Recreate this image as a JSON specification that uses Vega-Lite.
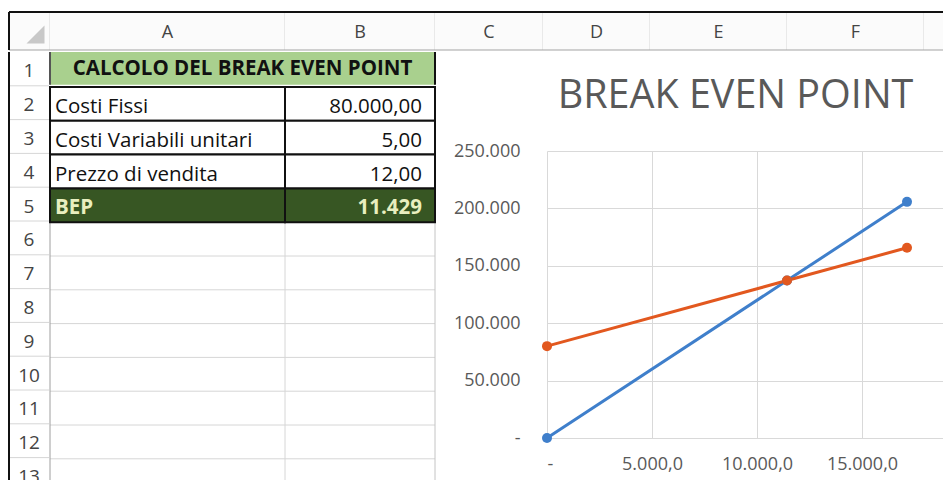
{
  "$schema": "https://vega.github.io/schema/vega-lite/v6.json",
  "background": "white",
  "padding": {"left": 8, "top": 11, "right": 0, "bottom": 0},
  "config": {
    "view": {"stroke": null},
    "font": "Open Sans",
    "concat": {"spacing": 0},
    "locale": {"number": {"decimal": ",", "thousands": ".", "grouping": [3], "currency": ["", " €"]}}
  },
  "datasets": {
    "righe": [
      {"riga": 1}, {"riga": 2}, {"riga": 3}, {"riga": 4}, {"riga": 5}, {"riga": 6}, {"riga": 7},
      {"riga": 8}, {"riga": 9}, {"riga": 10}, {"riga": 11}, {"riga": 12}, {"riga": 13}
    ],
    "foglio": [
      {"riga": 2, "voce": "Costi Fissi", "valore": 80000},
      {"riga": 3, "voce": "Costi Variabili unitari", "valore": 5},
      {"riga": 4, "voce": "Prezzo di vendita", "valore": 12},
      {"riga": 5, "voce": "BEP", "valore": 11428.57},
      {"riga": 6}, {"riga": 7}, {"riga": 8}, {"riga": 9}, {"riga": 10}, {"riga": 11}, {"riga": 12}, {"riga": 13}
    ],
    "grafico": [
      {"serie": "Ricavi totali", "quantita": 0, "importo": 0},
      {"serie": "Ricavi totali", "quantita": 11428.57, "importo": 137142.86},
      {"serie": "Ricavi totali", "quantita": 17142.86, "importo": 205714.29},
      {"serie": "Costi totali", "quantita": 0, "importo": 80000},
      {"serie": "Costi totali", "quantita": 11428.57, "importo": 137142.86},
      {"serie": "Costi totali", "quantita": 17142.86, "importo": 165714.29}
    ]
  },
  "spacing": 0,
  "bounds": "full",
  "vconcat": [
    {
      "spacing": 0,
      "bounds": "flush",
      "hconcat": [
        {
          "width": 41, "height": 38,
          "view": {"fill": "#fbfbfb", "stroke": null},
          "data": {"values": [{"cella": "angolo"}]},
          "layer": [
            {"mark": {"type": "rule", "color": "#d6d6d6"}, "encoding": {"x": {"datum": 1, "type": "quantitative", "scale": {"domain": [0, 1]}, "axis": null}}},
            {"mark": {"type": "rule", "color": "#a3a3a3"}, "encoding": {"y": {"datum": 0, "type": "quantitative", "scale": {"domain": [0, 1]}, "axis": null}}},
            {"mark": {"type": "rule", "color": "#111111", "strokeWidth": 2}, "encoding": {"y": {"datum": 1, "type": "quantitative", "scale": {"domain": [0, 1]}, "axis": null}}},
            {"mark": {"type": "rule", "color": "#111111", "strokeWidth": 2}, "encoding": {"x": {"datum": 0, "type": "quantitative", "scale": {"domain": [0, 1]}, "axis": null}}},
            {"mark": {"type": "point", "shape": "M1.67,-0.61L1.67,1.39L-0.33,1.39Z", "filled": true, "color": "#c8c8c8", "opacity": 1, "size": 324}, "encoding": {}}
          ]
        },
        {
          "width": 235, "height": 38,
          "view": {"fill": "#fbfbfb", "stroke": null},
          "data": {"values": [{"colonna": "A"}]},
          "layer": [
            {"mark": {"type": "rule", "color": "#d6d6d6"}, "encoding": {"x": {"datum": 1, "type": "quantitative", "scale": {"domain": [0, 1]}, "axis": null}}},
            {"mark": {"type": "rule", "color": "#a3a3a3"}, "encoding": {"y": {"datum": 0, "type": "quantitative", "scale": {"domain": [0, 1]}, "axis": null}}},
            {"mark": {"type": "rule", "color": "#111111", "strokeWidth": 2}, "encoding": {"y": {"datum": 1, "type": "quantitative", "scale": {"domain": [0, 1]}, "axis": null}}},
            {"mark": {"type": "text", "fontSize": 18, "color": "#444444", "dy": 1.5}, "encoding": {"text": {"field": "colonna"}}}
          ]
        },
        {
          "width": 150, "height": 38,
          "view": {"fill": "#fbfbfb", "stroke": null},
          "data": {"values": [{"colonna": "B"}]},
          "layer": [
            {"mark": {"type": "rule", "color": "#d6d6d6"}, "encoding": {"x": {"datum": 1, "type": "quantitative", "scale": {"domain": [0, 1]}, "axis": null}}},
            {"mark": {"type": "rule", "color": "#a3a3a3"}, "encoding": {"y": {"datum": 0, "type": "quantitative", "scale": {"domain": [0, 1]}, "axis": null}}},
            {"mark": {"type": "rule", "color": "#111111", "strokeWidth": 2}, "encoding": {"y": {"datum": 1, "type": "quantitative", "scale": {"domain": [0, 1]}, "axis": null}}},
            {"mark": {"type": "text", "fontSize": 18, "color": "#444444", "dy": 1.5}, "encoding": {"text": {"field": "colonna"}}}
          ]
        },
        {
          "width": 108, "height": 38,
          "view": {"fill": "#fbfbfb", "stroke": null},
          "data": {"values": [{"colonna": "C"}]},
          "layer": [
            {"mark": {"type": "rule", "color": "#d6d6d6"}, "encoding": {"x": {"datum": 1, "type": "quantitative", "scale": {"domain": [0, 1]}, "axis": null}}},
            {"mark": {"type": "rule", "color": "#a3a3a3"}, "encoding": {"y": {"datum": 0, "type": "quantitative", "scale": {"domain": [0, 1]}, "axis": null}}},
            {"mark": {"type": "rule", "color": "#111111", "strokeWidth": 2}, "encoding": {"y": {"datum": 1, "type": "quantitative", "scale": {"domain": [0, 1]}, "axis": null}}},
            {"mark": {"type": "text", "fontSize": 18, "color": "#444444", "dy": 1.5}, "encoding": {"text": {"field": "colonna"}}}
          ]
        },
        {
          "width": 107, "height": 38,
          "view": {"fill": "#fbfbfb", "stroke": null},
          "data": {"values": [{"colonna": "D"}]},
          "layer": [
            {"mark": {"type": "rule", "color": "#d6d6d6"}, "encoding": {"x": {"datum": 1, "type": "quantitative", "scale": {"domain": [0, 1]}, "axis": null}}},
            {"mark": {"type": "rule", "color": "#a3a3a3"}, "encoding": {"y": {"datum": 0, "type": "quantitative", "scale": {"domain": [0, 1]}, "axis": null}}},
            {"mark": {"type": "rule", "color": "#111111", "strokeWidth": 2}, "encoding": {"y": {"datum": 1, "type": "quantitative", "scale": {"domain": [0, 1]}, "axis": null}}},
            {"mark": {"type": "text", "fontSize": 18, "color": "#444444", "dy": 1.5}, "encoding": {"text": {"field": "colonna"}}}
          ]
        },
        {
          "width": 137, "height": 38,
          "view": {"fill": "#fbfbfb", "stroke": null},
          "data": {"values": [{"colonna": "E"}]},
          "layer": [
            {"mark": {"type": "rule", "color": "#d6d6d6"}, "encoding": {"x": {"datum": 1, "type": "quantitative", "scale": {"domain": [0, 1]}, "axis": null}}},
            {"mark": {"type": "rule", "color": "#a3a3a3"}, "encoding": {"y": {"datum": 0, "type": "quantitative", "scale": {"domain": [0, 1]}, "axis": null}}},
            {"mark": {"type": "rule", "color": "#111111", "strokeWidth": 2}, "encoding": {"y": {"datum": 1, "type": "quantitative", "scale": {"domain": [0, 1]}, "axis": null}}},
            {"mark": {"type": "text", "fontSize": 18, "color": "#444444", "dy": 1.5}, "encoding": {"text": {"field": "colonna"}}}
          ]
        },
        {
          "width": 137, "height": 38,
          "view": {"fill": "#fbfbfb", "stroke": null},
          "data": {"values": [{"colonna": "F"}]},
          "layer": [
            {"mark": {"type": "rule", "color": "#d6d6d6"}, "encoding": {"x": {"datum": 1, "type": "quantitative", "scale": {"domain": [0, 1]}, "axis": null}}},
            {"mark": {"type": "rule", "color": "#a3a3a3"}, "encoding": {"y": {"datum": 0, "type": "quantitative", "scale": {"domain": [0, 1]}, "axis": null}}},
            {"mark": {"type": "rule", "color": "#111111", "strokeWidth": 2}, "encoding": {"y": {"datum": 1, "type": "quantitative", "scale": {"domain": [0, 1]}, "axis": null}}},
            {"mark": {"type": "text", "fontSize": 18, "color": "#444444", "dy": 1.5}, "encoding": {"text": {"field": "colonna"}}}
          ]
        },
        {
          "width": 19, "height": 38,
          "view": {"fill": "#fbfbfb", "stroke": null},
          "data": {"values": [{"colonna": "G"}]},
          "layer": [
            {"mark": {"type": "rule", "color": "#a3a3a3"}, "encoding": {"y": {"datum": 0, "type": "quantitative", "scale": {"domain": [0, 1]}, "axis": null}}},
            {"mark": {"type": "rule", "color": "#111111", "strokeWidth": 2}, "encoding": {"y": {"datum": 1, "type": "quantitative", "scale": {"domain": [0, 1]}, "axis": null}}}
          ]
        }
      ]
    },
    {
      "spacing": 0,
      "bounds": "full",
      "hconcat": [
        {
          "width": 40, "height": 429.5,
          "data": {"name": "righe"},
          "layer": [
            {
              "mark": {"type": "rule", "color": "#d6d6d6", "clip": true},
              "encoding": {"y": {"field": "riga", "type": "ordinal", "bandPosition": 1, "scale": {"domain": [1, 2, 3, 4, 5, 6, 7, 8, 9, 10, 11, 12, 13], "range": [0, 439.4], "paddingInner": 0, "paddingOuter": 0}, "axis": null}}
            },
            {
              "mark": {"type": "text", "fontSize": 19, "color": "#444444", "dy": 2.5, "clip": true},
              "encoding": {
                "y": {"field": "riga", "type": "ordinal", "scale": {"domain": [1, 2, 3, 4, 5, 6, 7, 8, 9, 10, 11, 12, 13], "range": [0, 439.4], "paddingInner": 0, "paddingOuter": 0}, "axis": null},
                "text": {"field": "riga"}
              }
            },
            {
              "data": {"values": [{"bordo": "sinistro"}]},
              "mark": {"type": "rule", "color": "#111111", "strokeWidth": 2},
              "encoding": {"x": {"datum": 0, "type": "quantitative", "scale": {"domain": [0, 1]}, "axis": null}}
            }
          ]
        },
        {
          "spacing": 0,
          "bounds": "full",
          "vconcat": [
            {
              "width": 385, "height": 32.8,
              "view": {"fill": "#a9d08e", "stroke": null},
              "data": {"values": [{"titolo": "CALCOLO DEL BREAK EVEN POINT"}]},
              "layer": [
                {"mark": {"type": "text", "fontSize": 20.5, "fontWeight": "bold", "color": "#111111", "dy": 1}, "encoding": {"text": {"field": "titolo"}}},
                {"mark": {"type": "rule", "color": "#111111", "strokeWidth": 2}, "encoding": {"x": {"datum": 1, "type": "quantitative", "scale": {"domain": [0, 1]}, "axis": null}}},
                {"mark": {"type": "rule", "color": "#555555", "strokeWidth": 2}, "encoding": {"x": {"datum": 0, "type": "quantitative", "scale": {"domain": [0, 1]}, "axis": null}}}
              ]
            },
            {
              "spacing": 0,
              "bounds": "flush",
              "hconcat": [
                {
                  "width": 235, "height": 395.7,
                  "data": {"name": "foglio"},
                  "layer": [
                    {
                      "transform": [{"filter": "datum.riga >= 6"}],
                      "mark": {"type": "rule", "color": "#d6d6d6", "clip": true},
                      "encoding": {"y": {"field": "riga", "type": "ordinal", "bandPosition": 1, "scale": {"domain": [2, 3, 4, 5, 6, 7, 8, 9, 10, 11, 12, 13], "range": [0, 405.6], "paddingInner": 0, "paddingOuter": 0}, "axis": null}}
                    },
                    {
                      "data": {"values": [{"bordo": "destro"}]},
                      "mark": {"type": "rule", "color": "#d6d6d6"},
                      "encoding": {"x": {"datum": 1, "type": "quantitative", "scale": {"domain": [0, 1]}, "axis": null}}
                    },
                    {
                      "data": {"values": [{"bordo": "sinistro"}]},
                      "mark": {"type": "rule", "color": "#9e9e9e"},
                      "encoding": {"x": {"datum": 0, "type": "quantitative", "scale": {"domain": [0, 1]}, "axis": null}}
                    },
                    {
                      "transform": [{"filter": "datum.riga <= 5"}],
                      "mark": {"type": "rect", "stroke": "#111111", "strokeWidth": 2},
                      "encoding": {
                        "y": {"field": "riga", "type": "ordinal", "scale": {"domain": [2, 3, 4, 5, 6, 7, 8, 9, 10, 11, 12, 13], "range": [0, 405.6], "paddingInner": 0, "paddingOuter": 0}, "axis": null},
                        "x": {"datum": 0, "type": "quantitative", "scale": {"domain": [0, 1]}, "axis": null},
                        "x2": {"datum": 1},
                        "fill": {"condition": {"test": "datum.riga == 5", "value": "#375623"}, "value": "#ffffff"}
                      }
                    },
                    {
                      "transform": [{"filter": "datum.riga <= 4"}],
                      "mark": {"type": "text", "align": "left", "dx": 5, "dy": 3, "fontSize": 20.5, "color": "#111111"},
                      "encoding": {
                        "y": {"field": "riga", "type": "ordinal", "axis": null},
                        "x": {"datum": 0, "type": "quantitative", "axis": null},
                        "text": {"field": "voce"}
                      }
                    },
                    {
                      "transform": [{"filter": "datum.riga == 5"}],
                      "mark": {"type": "text", "align": "left", "dx": 5, "dy": 3, "fontSize": 20.5, "fontWeight": "bold", "color": "#e9efbf"},
                      "encoding": {
                        "y": {"field": "riga", "type": "ordinal", "axis": null},
                        "x": {"datum": 0, "type": "quantitative", "axis": null},
                        "text": {"field": "voce"}
                      }
                    }
                  ]
                },
                {
                  "width": 150, "height": 395.7,
                  "data": {"name": "foglio"},
                  "layer": [
                    {
                      "transform": [{"filter": "datum.riga >= 6"}],
                      "mark": {"type": "rule", "color": "#d6d6d6", "clip": true},
                      "encoding": {"y": {"field": "riga", "type": "ordinal", "bandPosition": 1, "scale": {"domain": [2, 3, 4, 5, 6, 7, 8, 9, 10, 11, 12, 13], "range": [0, 405.6], "paddingInner": 0, "paddingOuter": 0}, "axis": null}}
                    },
                    {
                      "data": {"values": [{"bordo": "destro"}]},
                      "mark": {"type": "rule", "color": "#c4c4c4"},
                      "encoding": {"x": {"datum": 1, "type": "quantitative", "scale": {"domain": [0, 1]}, "axis": null}}
                    },
                    {
                      "transform": [{"filter": "datum.riga <= 5"}],
                      "mark": {"type": "rect", "stroke": "#111111", "strokeWidth": 2},
                      "encoding": {
                        "y": {"field": "riga", "type": "ordinal", "scale": {"domain": [2, 3, 4, 5, 6, 7, 8, 9, 10, 11, 12, 13], "range": [0, 405.6], "paddingInner": 0, "paddingOuter": 0}, "axis": null},
                        "x": {"datum": 0, "type": "quantitative", "scale": {"domain": [0, 1]}, "axis": null},
                        "x2": {"datum": 1},
                        "fill": {"condition": {"test": "datum.riga == 5", "value": "#375623"}, "value": "#ffffff"}
                      }
                    },
                    {
                      "transform": [{"filter": "datum.riga <= 4"}],
                      "mark": {"type": "text", "align": "right", "dx": -13, "dy": 3, "fontSize": 20.5, "color": "#111111"},
                      "encoding": {
                        "y": {"field": "riga", "type": "ordinal", "axis": null},
                        "x": {"datum": 1, "type": "quantitative", "axis": null},
                        "text": {"field": "valore", "type": "quantitative", "format": ",.2f"}
                      }
                    },
                    {
                      "transform": [{"filter": "datum.riga == 5"}],
                      "mark": {"type": "text", "align": "right", "dx": -13, "dy": 3, "fontSize": 20.5, "fontWeight": "bold", "color": "#e9efbf"},
                      "encoding": {
                        "y": {"field": "riga", "type": "ordinal", "axis": null},
                        "x": {"datum": 1, "type": "quantitative", "axis": null},
                        "text": {"field": "valore", "type": "quantitative", "format": ",.0f"}
                      }
                    }
                  ]
                }
              ]
            }
          ]
        },
        {
          "width": 17, "height": 429.5,
          "data": {"values": [{"area": "grafico"}]},
          "mark": {"type": "text"},
          "encoding": {"text": {"value": ""}}
        },
        {
          "spacing": 0,
          "bounds": "flush",
          "vconcat": [
            {
              "width": 396, "height": 98.5,
              "data": {"values": [{"titolo": "BREAK EVEN POINT"}]},
              "mark": {"type": "text", "fontSize": 39.5, "color": "#595959", "dx": -9.5, "dy": -5.75},
              "encoding": {"text": {"field": "titolo"}}
            },
            {
              "width": 396, "height": 287,
              "data": {"name": "grafico"},
              "encoding": {
                "x": {
                  "field": "quantita", "type": "quantitative",
                  "scale": {"domain": [0, 18857], "nice": false, "zero": true},
                  "axis": {
                    "values": [0, 5000, 10000, 15000], "format": ",.1f",
                    "labelExpr": "datum.value == 0 ? '-' : datum.label",
                    "title": null, "grid": true, "gridColor": "#d9d9d9", "gridWidth": 1,
                    "domain": false, "ticks": false, "tickSize": 0,
                    "labelPadding": 17, "labelFontSize": 18, "labelColor": "#595959"
                  }
                },
                "y": {
                  "field": "importo", "type": "quantitative",
                  "scale": {"domain": [0, 250000], "nice": false},
                  "axis": {
                    "values": [0, 50000, 100000, 150000, 200000, 250000], "format": ",.0f",
                    "labelExpr": "datum.value == 0 ? '-' : datum.label",
                    "title": null, "grid": true, "gridColor": "#d9d9d9", "gridWidth": 1,
                    "domain": false, "ticks": false, "tickSize": 0,
                    "labelPadding": 27, "labelFontSize": 18, "labelColor": "#595959"
                  }
                },
                "color": {
                  "field": "serie", "type": "nominal",
                  "scale": {"domain": ["Ricavi totali", "Costi totali"], "range": ["#3f7fcb", "#e2581f"]},
                  "legend": null
                }
              },
              "layer": [
                {"mark": {"type": "line", "strokeWidth": 3}},
                {"mark": {"type": "point", "filled": true, "size": 100, "opacity": 1}}
              ]
            }
          ]
        }
      ]
    }
  ]
}
